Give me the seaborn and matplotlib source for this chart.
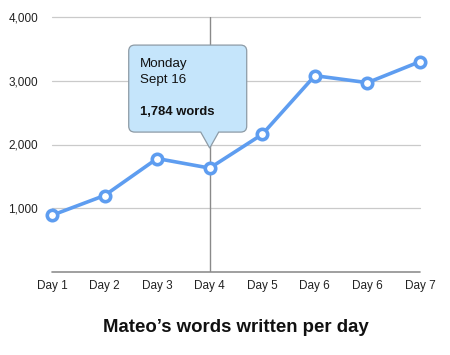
import numpy as np
import pandas as pd
import seaborn as sns
import matplotlib.pyplot as plt
from matplotlib.patches import PathPatch
from matplotlib.path import Path

days = ["Day 1", "Day 2", "Day 3", "Day 4", "Day 5", "Day 6", "Day 6", "Day 7"]
words = [890, 1200, 1780, 1630, 2160, 3080, 2970, 3300]
y_ticks = [1000, 2000, 3000, 4000]
y_labels = ["1,000", "2,000", "3,000", "4,000"]
tip_day = "Monday"
tip_date = "Sept 16"
tip_value = "1,784 words"
highlight = 3

sns.set_style("white")
plt.rcParams["font.family"] = ["Liberation Sans", "DejaVu Sans"]

W, H = 450, 355
df = pd.DataFrame({"pos": np.arange(len(days)), "words": words})

fig = plt.figure(figsize=(W / 100, H / 100), dpi=100)
ax = fig.add_axes([52 / W, 1 - 272 / H, 368 / W, 255 / H])

# grid + baseline + highlight line
for t in y_ticks:
    ax.axhline(t, color="#cacaca", lw=0.9, zorder=1, clip_on=False)
ax.axhline(0, color="#8f8f8f", lw=1.2, zorder=1, clip_on=False)
ax.axvline(highlight, color="#8a8a8a", lw=1.0, zorder=1)

line_col = "#5e9df0"
sns.lineplot(data=df, x="pos", y="words", ax=ax, color=line_col, linewidth=2.6,
             marker="o", markersize=7.5, markerfacecolor="white",
             markeredgecolor=line_col, markeredgewidth=2.6, clip_on=False, zorder=3)

ax.set_xlim(0, len(days) - 1)
ax.set_ylim(0, 4000)
ax.set_xticks(df["pos"])
ax.set_xticklabels(days)
ax.set_yticks(y_ticks)
ax.set_yticklabels(y_labels)
ax.set_xlabel("")
ax.set_ylabel("")
ax.tick_params(axis="both", length=0, labelsize=8.5, colors="#222222")
ax.tick_params(axis="x", pad=6)
ax.tick_params(axis="y", pad=10)
for s in ax.spines.values():
    s.set_visible(False)

fig.text(236 / W, 1 - 328 / H, "Mateo\u2019s words written per day",
         ha="center", va="center", fontsize=13.4, fontweight="bold", color="#111111")

# tooltip callout anchored above the highlighted point (pixel offsets)
ax_px = ax.transData.transform((highlight, words[highlight]))
tx, ty = ax_px[0], ax_px[1] + 20
x0, x1 = tx - 81, tx + 37
y0, y1 = ty + 16, ty + 103
r = 6
hw = 9
verts = [
    (x0 + r, y0), (tx - hw, y0), (tx, ty), (tx + hw, y0), (x1 - r, y0),
    (x1, y0), (x1, y0 + r),
    (x1, y1 - r),
    (x1, y1), (x1 - r, y1),
    (x0 + r, y1),
    (x0, y1), (x0, y1 - r),
    (x0, y0 + r),
    (x0, y0), (x0 + r, y0),
    (x0 + r, y0),
]
codes = [Path.MOVETO, Path.LINETO, Path.LINETO, Path.LINETO, Path.LINETO,
         Path.CURVE3, Path.CURVE3,
         Path.LINETO,
         Path.CURVE3, Path.CURVE3,
         Path.LINETO,
         Path.CURVE3, Path.CURVE3,
         Path.LINETO,
         Path.CURVE3, Path.CURVE3,
         Path.CLOSEPOLY]
verts = [(vx / W, vy / H) for vx, vy in verts]
fig.add_artist(PathPatch(Path(verts, codes), transform=fig.transFigure,
                         facecolor="#c5e5fb", edgecolor="#8d9ba6", lw=0.9, zorder=5))

tx0 = (x0 + 11) / W
fig.text(tx0, (ty + 84) / H, tip_day, fontsize=9.6, color="#111111", va="center", zorder=6)
fig.text(tx0, (ty + 68) / H, tip_date, fontsize=9.6, color="#111111", va="center", zorder=6)
fig.text(tx0, (ty + 36) / H, tip_value, fontsize=9.4, fontweight="bold",
         color="#111111", va="center", zorder=6)

fig.savefig("out.png", dpi=100)
